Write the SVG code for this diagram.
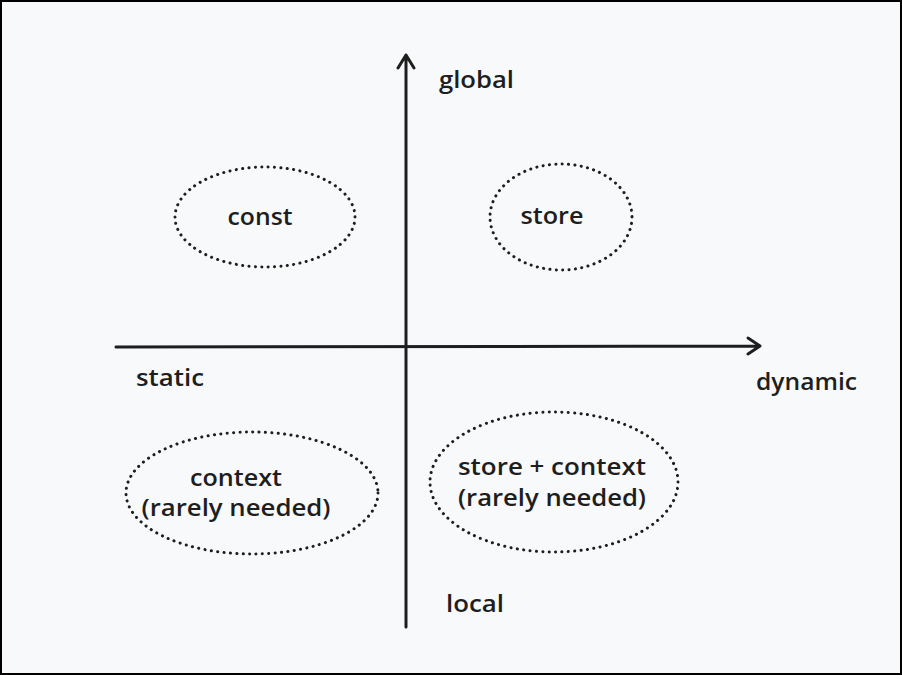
<svg xmlns="http://www.w3.org/2000/svg" width="902" height="675" viewBox="0 0 902 675">
<style>
.lbl{font-family:"Open Sans","Liberation Sans",sans-serif;font-size:23px;fill:#1e1e1e;font-weight:600}
.ell{fill:none;stroke:#1e1e1e;stroke-width:3;stroke-dasharray:0.1 6.3;stroke-linecap:round}
.ax{fill:none;stroke:#1e1e1e;stroke-width:3;stroke-linecap:round;stroke-linejoin:round}
</style>
<rect x="1" y="1" width="900" height="673" fill="#f8f9fa" stroke="#000" stroke-width="2"/>
<g id="connectors">
<path class="ax" d="M406 627 L406 55 M398 68 L406 55 L414 68"/>
<path class="ax" d="M116 347 L760 346 M748 338 L760 346 L748 354"/>
</g>
<g id="const"><ellipse class="ell" cx="265" cy="217" rx="90" ry="50"/><text class="lbl" x="260" y="225" text-anchor="middle" textLength="65" lengthAdjust="spacingAndGlyphs">const</text></g>
<g id="store"><ellipse class="ell" cx="561" cy="217" rx="71" ry="53"/><text class="lbl" x="552" y="224" text-anchor="middle" textLength="63" lengthAdjust="spacingAndGlyphs">store</text></g>
<g id="context"><ellipse class="ell" cx="252" cy="493" rx="126" ry="61"/><text class="lbl" x="236" y="486" text-anchor="middle" textLength="92" lengthAdjust="spacingAndGlyphs">context</text><text class="lbl" x="236" y="516" text-anchor="middle" textLength="189" lengthAdjust="spacingAndGlyphs">(rarely needed)</text></g>
<g id="storecontext"><ellipse class="ell" cx="554" cy="482" rx="124" ry="70"/><text class="lbl" x="552" y="475" text-anchor="middle" textLength="188" lengthAdjust="spacingAndGlyphs">store + context</text><text class="lbl" x="552" y="506" text-anchor="middle" textLength="188" lengthAdjust="spacingAndGlyphs">(rarely needed)</text></g>
<g id="labels">
<text class="lbl" x="439" y="88" textLength="75" lengthAdjust="spacingAndGlyphs">global</text>
<text class="lbl" x="136" y="386" textLength="68" lengthAdjust="spacingAndGlyphs">static</text>
<text class="lbl" x="756" y="390" textLength="101" lengthAdjust="spacingAndGlyphs">dynamic</text>
<text class="lbl" x="446" y="612" textLength="58" lengthAdjust="spacingAndGlyphs">local</text>
</g>
</svg>
